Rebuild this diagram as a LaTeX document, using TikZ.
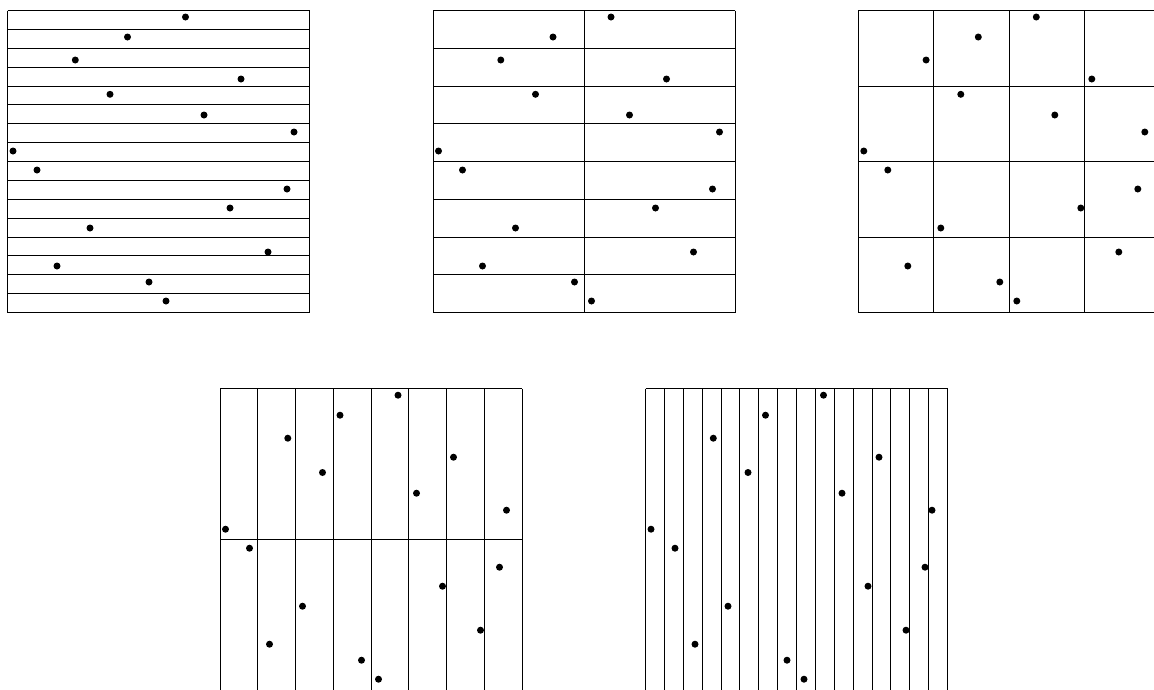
\documentclass[tikz,border=0pt]{standalone}
\usepackage{tikz}
\usetikzlibrary{calc}

\begin{document}
\begin{tikzpicture}[x=1pt, y=-1pt,
    gridline/.style={line width=0.8pt, black},
    netpt/.style={fill=black}]
    \useasboundingbox (0,0) rectangle (1154,689);
    \clip (0,0) rectangle (1154,689);
    \def\S{302}

    % 点集 (16 个点)
    \def\netpts{178/6.5, 120/26.5, 67.8/49.5, 233.5/68.5, 102.5/83.8, 196.5/104.5,
        286.5/121.5, 5.5/140.5, 29.5/159.5, 279.5/178.5, 222.5/197.5, 82.5/217.5,
        260.5/241.5, 49.5/255.5, 141.5/271.5, 158.5/290.5}

    % 五种基本区间划分
    \foreach \ox/\oy/\nx/\ny in {7.5/10.5/1/16, 433/10.5/2/8, 858.3/10.5/4/4,
        220/388.7/8/2, 645.5/388.7/16/1} {
        \begin{scope}[shift={(\ox,\oy)}]
            \foreach \i in {0,...,\nx}
                \draw[gridline] ({\i*\S/\nx},0) -- ({\i*\S/\nx},\S);
            \foreach \j in {0,...,\ny}
                \draw[gridline] (0,{\j*\S/\ny}) -- (\S,{\j*\S/\ny});
            \foreach \px/\py in \netpts
                \fill[netpt] (\px,\py) circle (3.5pt);
        \end{scope}
    }
\end{tikzpicture}
\end{document}
